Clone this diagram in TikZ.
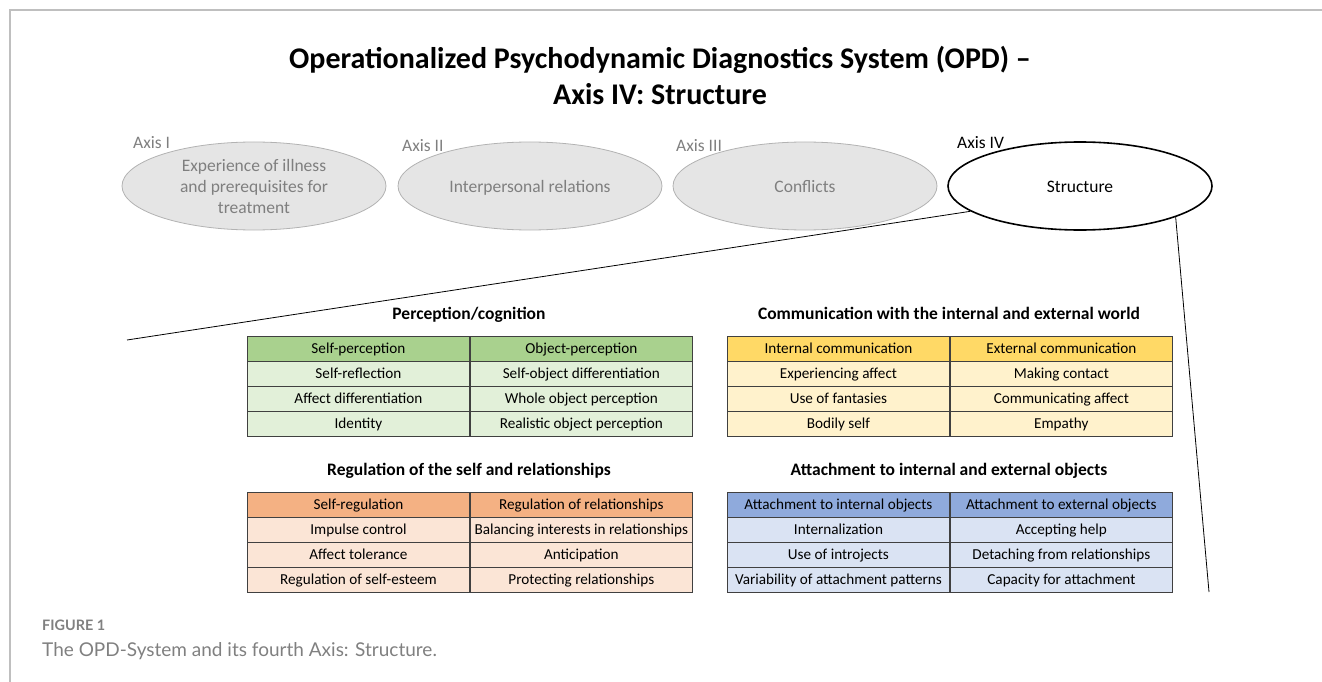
\documentclass[tikz,border=0pt]{standalone}
\usepackage{fontspec}
\setmainfont{Carlito}
\newfontfamily\captionfont{Lato}
\usetikzlibrary{shapes, positioning}

\definecolor{greenhead}{HTML}{A9D18E}
\definecolor{greenbody}{HTML}{E2F0D9}
\definecolor{yellowhead}{HTML}{FFD966}
\definecolor{yellowbody}{HTML}{FFF2CC}
\definecolor{orangehead}{HTML}{F4B183}
\definecolor{orangebody}{HTML}{FBE5D6}
\definecolor{bluehead}{HTML}{8FAADC}
\definecolor{bluebody}{HTML}{DAE3F3}
\definecolor{axisgray}{HTML}{7F7F7F}

% one table: name, left x, top y, colour, title, rows (left/right)
\newcommand{\opdtable}[6]{%
  \node[tabtitle] (#1Title) at (#2+222,#3-21) {#5};
  \foreach \l/\r [count=\i from 0] in {#6} {
    \ifnum\i=0 \def\cellfill{#4head}\else \def\cellfill{#4body}\fi
    \node[cell, fill=\cellfill, anchor=north west] (#1-\i-l) at (#2,#3+\i*25) {\l};
    \node[cell, fill=\cellfill, right=0pt of #1-\i-l] (#1-\i-r) {\r};
  }
}

\begin{document}
\begin{tikzpicture}[x=1pt, y=-1pt,
    axis/.style={ellipse, draw=gray!60, fill=gray!20, line width=0.8pt, minimum width=264pt, minimum height=88pt,
      inner sep=0pt, align=center, text=axisgray, font=\fontsize{17.5}{21}\selectfont},
    axislabel/.style={anchor=west, inner sep=0pt, text=axisgray, font=\fontsize{17.5}{20}\selectfont},
    cell/.style={draw=black!75, line width=0.9pt, minimum width=222pt, minimum height=25pt, inner sep=0pt,
      text height=12pt, text depth=3pt, font=\fontsize{15.2}{17}\selectfont},
    tabtitle/.style={inner sep=0pt, text height=12pt, text depth=4pt, font=\bfseries\fontsize{17.5}{20}\selectfont}]
  \useasboundingbox (0,0) rectangle (1322,682);
  \draw[gray!50, line width=1.5pt] (10,682) -- (10,10) -- (1322,10);

  \node[align=center, font=\bfseries\fontsize{30}{36}\selectfont] (title) at (660,75)
    {Operationalized Psychodynamic Diagnostics System (OPD) --\\Axis IV: Structure};

  % the four axes
  \node[axis] (axisI) at (254,186) {Experience of illness\\and prerequisites for\\treatment};
  \node[axis, text height=14pt, text depth=2pt] (axisII) at (530,186) {Interpersonal relations};
  \node[axis, text height=14pt, text depth=2pt] (axisIII) at (805,186) {Conflicts};
  \node[axis, text height=14pt, text depth=2pt, draw=black, fill=white, line width=1.6pt, text=black] (axisIV) at (1080,186) {Structure};
  \node[axislabel] (labelI) at (133,143) {Axis I};
  \node[axislabel] (labelII) at (402,146) {Axis II};
  \node[axislabel] (labelIII) at (676,146) {Axis III};
  \node[axislabel, text=black] (labelIV) at (957,143) {Axis IV};

  \coordinate (leftEnd) at (127,340);
  \coordinate (rightEnd) at (1209,592);
  \draw[line width=0.8pt] (axisIV.193) -- (leftEnd);
  \draw[line width=0.8pt] (axisIV.342) -- (rightEnd);

  \opdtable{perc}{247}{336}{green}{Perception/cognition}
    {Self-perception/Object-perception, Self-reflection/Self-object differentiation,
     Affect differentiation/Whole object perception, Identity/Realistic object perception}
  \opdtable{comm}{727}{336}{yellow}{Communication with the internal and external world}
    {Internal communication/External communication, Experiencing affect/Making contact,
     Use of fantasies/Communicating affect, Bodily self/Empathy}
  \opdtable{regu}{247}{492}{orange}{Regulation of the self and relationships}
    {Self-regulation/Regulation of relationships, Impulse control/Balancing interests in relationships,
     Affect tolerance/Anticipation, Regulation of self-esteem/Protecting relationships}
  \opdtable{atta}{727}{492}{blue}{Attachment to internal and external objects}
    {Attachment to internal objects/Attachment to external objects, Internalization/Accepting help,
     Use of introjects/Detaching from relationships, Variability of attachment patterns/Capacity for attachment}

  % caption
  \node[anchor=west, inner sep=0pt, text=gray, font=\captionfont\bfseries\fontsize{14.4}{16}\selectfont] (figLabel) at (42,625) {FIGURE 1};
  \node[anchor=west, inner sep=0pt, text=gray, font=\captionfont\fontsize{19}{22}\selectfont] (figText) at (42,651)
    {The OPD-System and its fourth Axis: Structure.};
\end{tikzpicture}
\end{document}
